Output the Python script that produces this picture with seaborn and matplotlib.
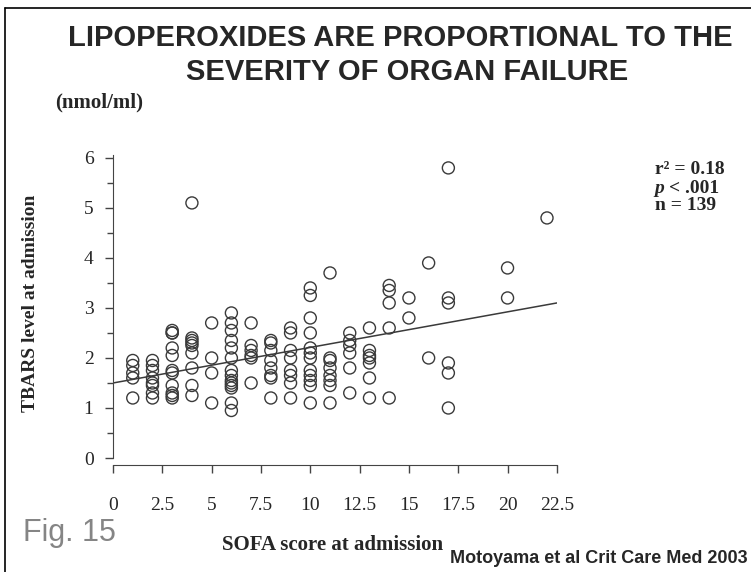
import matplotlib
matplotlib.use("Agg")
import matplotlib.pyplot as plt
import seaborn as sns
import pandas as pd
from matplotlib.ticker import MultipleLocator
from matplotlib.lines import Line2D

# values (SOFA score vs TBARS, nmol/ml)
sofa = (
    [1] * 5 + [2] * 8 + [3] * 11 + [4] * 9 + [5] * 4 + [6] * 14 + [7] * 6
    + [8] * 8 + [9] * 8 + [10] * 12 + [11] * 8 + [12] * 6 + [13] * 7
    + [14] * 5 + [15] * 2 + [16] * 2 + [17] * 6 + [20] * 2 + [22] * 1
)
tbars = [
    1.95, 1.85, 1.7, 1.6, 1.2,
    1.95, 1.85, 1.75, 1.6, 1.5, 1.45, 1.3, 1.2,
    2.55, 2.5, 2.5, 2.2, 2.05, 1.75, 1.7, 1.45, 1.3, 1.25, 1.2,
    5.1, 2.4, 2.35, 2.3, 2.25, 2.1, 1.8, 1.45, 1.25,
    2.7, 2.0, 1.7, 1.1,
    2.9, 2.7, 2.55, 2.35, 2.2, 2.0, 1.75, 1.65, 1.55, 1.5, 1.45, 1.4, 1.1, 0.95,
    2.7, 2.25, 2.15, 2.05, 2.0, 1.5,
    2.35, 2.3, 2.15, 1.95, 1.8, 1.65, 1.6, 1.2,
    2.6, 2.5, 2.15, 2.0, 1.75, 1.65, 1.5, 1.2,
    3.4, 3.25, 2.8, 2.5, 2.2, 2.1, 2.0, 1.75, 1.65, 1.55, 1.45, 1.1,
    3.7, 2.0, 1.95, 1.8, 1.65, 1.55, 1.45, 1.1,
    2.5, 2.35, 2.25, 2.1, 1.8, 1.3,
    2.6, 2.15, 2.05, 2.0, 1.9, 1.6, 1.2,
    3.45, 3.35, 3.1, 2.6, 1.2,
    3.2, 2.8,
    3.9, 2.0,
    5.8, 3.2, 3.1, 1.9, 1.7, 1.0,
    3.8, 3.2,
    4.8,
]

# published regression line
fit_x = [0, 22.5]
fit_y = [1.5, 3.1]

x_ticks = [0, 2.5, 5, 7.5, 10, 12.5, 15, 17.5, 20, 22.5]
x_tick_labels = ["0", "2.5", "5", "7.5", "10", "12.5", "15", "17.5", "20", "22.5"]
y_ticks = [0, 1, 2, 3, 4, 5, 6]

df = pd.DataFrame({"sofa": sofa, "tbars": tbars})
fit = pd.DataFrame({"sofa": fit_x, "tbars": fit_y})

sns.set_style("ticks")
serif = ["Liberation Serif", "DejaVu Serif"]
sans = ["Liberation Sans", "DejaVu Sans"]
plt.rcParams["font.family"] = serif

fig = plt.figure(figsize=(7.51, 5.72), dpi=100)
ax = fig.add_axes([0.1505, 0.1993, 0.591, 0.529])

sns.scatterplot(data=df, x="sofa", y="tbars", ax=ax, s=75,
                facecolor="none", edgecolor="#3a3a3a", linewidth=1.0)
sns.lineplot(data=fit, x="sofa", y="tbars", ax=ax, color="#3a3a3a", linewidth=1.1)

sns.despine(ax=ax)
ax.spines["bottom"].set_position(("outward", 5))
for side in ["left", "bottom"]:
    ax.spines[side].set_color("#444")

ax.set_xlim(0, 22.5)
ax.set_ylim(0, 6.05)
ax.set_xticks(x_ticks)
ax.set_xticklabels(x_tick_labels, fontsize=14)
ax.set_yticks(y_ticks)
ax.set_yticklabels([str(v) for v in y_ticks], fontsize=14)
ax.yaxis.set_minor_locator(MultipleLocator(0.5))
ax.tick_params(axis="y", which="major", length=6, width=1, color="#444", pad=8)
ax.tick_params(axis="x", which="major", length=6, width=1, color="#444", pad=17)
ax.tick_params(axis="y", which="minor", length=4, width=1, color="#444")

ax.set_xlabel("")
ax.set_ylabel("")
fig.text(0.041, 0.47, "TBARS level at admission", rotation=90, ha="center", va="center",
         fontweight="bold", fontsize=14)
fig.text(0.443, 0.047, "SOFA score at admission", ha="center", va="center",
         fontweight="bold", fontsize=15)
fig.text(0.074, 0.82, "(nmol/ml)", ha="left", va="center",
         fontweight="bold", fontsize=15)

fig.text(0.533, 0.933, "LIPOPEROXIDES ARE PROPORTIONAL TO THE", ha="center", va="center",
         family=sans, fontweight="bold", fontsize=21)
fig.text(0.542, 0.875, "SEVERITY OF ORGAN FAILURE", ha="center", va="center",
         family=sans, fontweight="bold", fontsize=21)

fig.text(0.872, 0.703, "r² = 0.18", ha="left", va="center",
         fontweight="bold", fontsize=14)
fig.text(0.872, 0.671, "p", ha="left", va="center",
         fontweight="bold", fontstyle="italic", fontsize=14)
fig.text(0.891, 0.671, "< .001", ha="left", va="center",
         fontweight="bold", fontsize=14)
fig.text(0.872, 0.640, "n = 139", ha="left", va="center",
         fontweight="bold", fontsize=14)

fig.text(0.03, 0.068, "Fig. 15", ha="left", va="center",
         family=sans, color="#858585", fontsize=22)
fig.text(0.996, 0.024, "Motoyama et al Crit Care Med 2003", ha="right", va="center",
         family=sans, fontweight="bold", fontsize=13)

# thin frame along the top and left edge of the slide
fig.add_artist(Line2D([0.007, 1.0], [0.986, 0.986], transform=fig.transFigure,
                      color="black", linewidth=1.2))
fig.add_artist(Line2D([0.007, 0.007], [0.0, 0.986], transform=fig.transFigure,
                      color="black", linewidth=1.2))

fig.savefig("out.png", dpi=100)
